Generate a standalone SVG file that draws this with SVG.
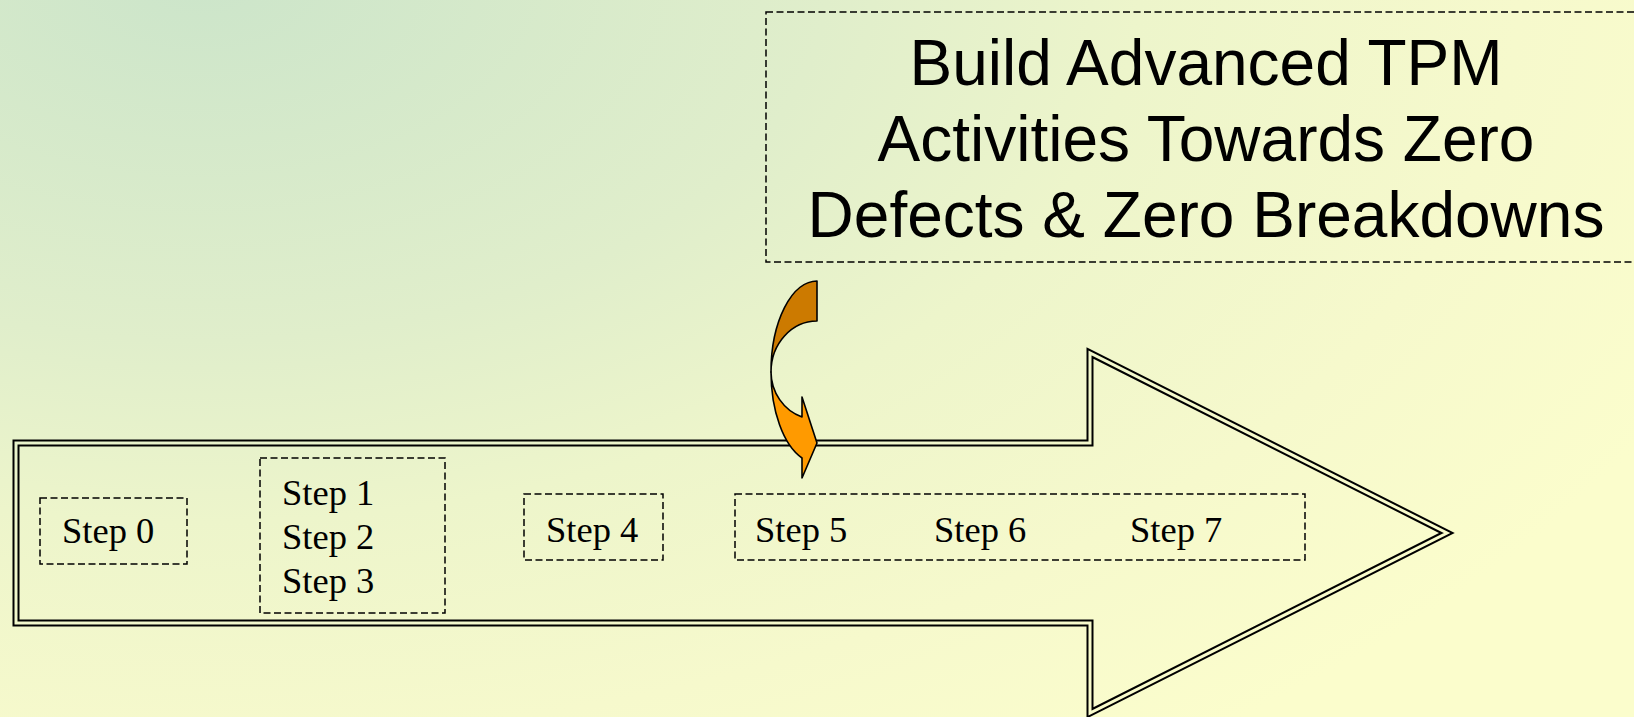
<svg xmlns="http://www.w3.org/2000/svg" width="1634" height="717" viewBox="0 0 1634 717">
  <defs>
    <radialGradient id="bg" gradientUnits="userSpaceOnUse" cx="0" cy="0" r="1" gradientTransform="translate(200,-20) scale(1650,950)">
      <stop offset="0" stop-color="#CCE5CA"/>
      <stop offset="0.38" stop-color="#E0EECB"/>
      <stop offset="0.57" stop-color="#EDF5CB"/>
      <stop offset="0.8" stop-color="#F6F9CC"/>
      <stop offset="1" stop-color="#FBFDCC"/>
    </radialGradient>
  </defs>
  <style>
    .dash { fill: none; stroke: #000; stroke-width: 1.5; stroke-dasharray: 7 3.5; }
    .step { font-family: "Liberation Serif", "Times New Roman", serif; font-size: 36.5px; fill: #000; }
    .title { font-family: "Liberation Sans", Arial, sans-serif; font-size: 64px; fill: #000; text-anchor: middle; }
    .outer { fill: none; stroke: #000; stroke-width: 7; stroke-linejoin: miter; stroke-miterlimit: 10; }
    .gap { fill: none; stroke: url(#bg); stroke-width: 3; stroke-linejoin: miter; stroke-miterlimit: 10; }
    .curl { stroke: #000; stroke-width: 1.6; stroke-linejoin: round; }
  </style>

  <!-- page background -->
  <rect x="0" y="0" width="1634" height="717" fill="url(#bg)"/>

  <!-- large block arrow with double outline -->
  <g id="timeline-arrow">
    <path class="outer" d="M16,443 L1090,443 L1090,353 L1447,533 L1090,713 L1090,623 L16,623 Z"/>
    <path class="gap" d="M16,443 L1090,443 L1090,353 L1447,533 L1090,713 L1090,623 L16,623 Z"/>
  </g>

  <g id="step0">
    <rect class="dash" x="40" y="498" width="147" height="66"/>
    <text class="step" x="62" y="543">Step 0</text>
  </g>

  <g id="step1-3">
    <rect class="dash" x="260" y="458" width="185" height="155"/>
    <text class="step" x="282" y="505">Step 1</text>
    <text class="step" x="282" y="549">Step 2</text>
    <text class="step" x="282" y="593">Step 3</text>
  </g>

  <g id="step4">
    <rect class="dash" x="524" y="494" width="139" height="66"/>
    <text class="step" x="546" y="542">Step 4</text>
  </g>

  <g id="step5-7">
    <rect class="dash" x="735" y="494" width="570" height="66"/>
    <text class="step" x="755" y="542">Step 5</text>
    <text class="step" x="934" y="542">Step 6</text>
    <text class="step" x="1130" y="542">Step 7</text>
  </g>

  <g id="goal">
    <rect class="dash" x="766" y="12" width="880" height="250"/>
    <text class="title" x="1206" y="85">Build Advanced TPM</text>
    <text class="title" x="1206" y="161">Activities Towards Zero</text>
    <text class="title" x="1206" y="237">Defects &amp; Zero Breakdowns</text>
  </g>

  <!-- curved arrow pointing into Step 5 -->
  <g id="connectors">
    <path class="curl" fill="#CC7A00" d="M817,281 A46,91 0 0 0 771,372 A46,51 0 0 1 817,321 Z"/>
    <path class="curl" fill="#FF9A00" d="M771,372 A46,91 0 0 0 802,458 L802,478 L817,443 L802,397 L802,417 A46,48 0 0 1 771,372 Z"/>
  </g>
</svg>
